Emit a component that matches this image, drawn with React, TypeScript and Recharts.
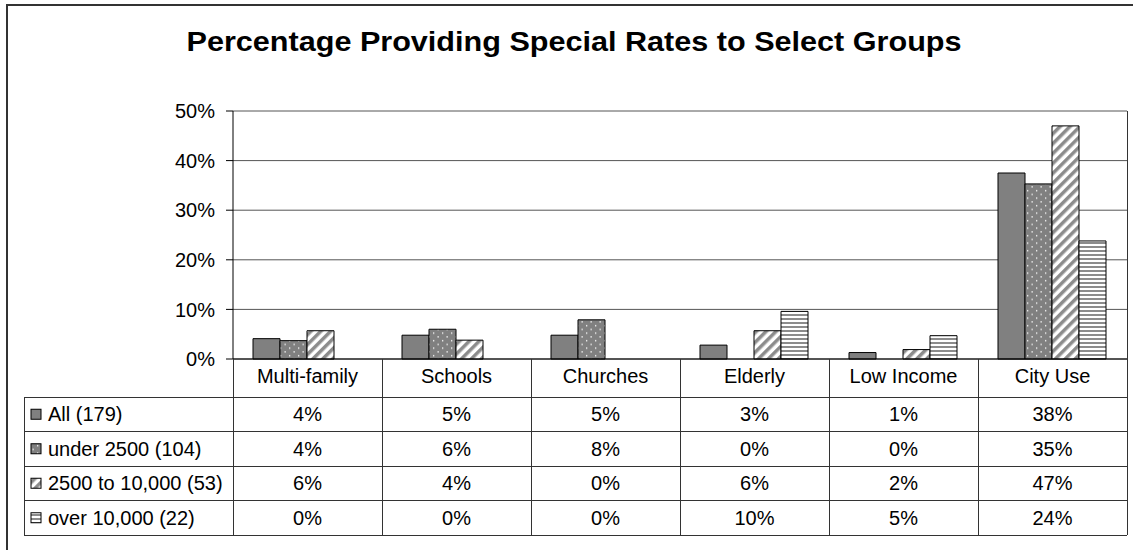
import { Bar, BarChart, CartesianGrid, XAxis, YAxis } from "recharts";

const categories = ["Multi-family", "Schools", "Churches", "Elderly", "Low Income", "City Use"];
const seriesNames = ["All (179)", "under 2500 (104)", "2500 to 10,000 (53)", "over 10,000 (22)"];

// bar heights (percent)
const allTowns = [4.1, 4.8, 4.8, 2.8, 1.3, 37.5];
const under2500 = [3.7, 6.0, 7.9, 0, 0, 35.3];
const from2500to10000 = [5.7, 3.8, 0, 5.7, 1.9, 47.0];
const over10000 = [0, 0, 0, 9.6, 4.7, 23.8];

// rounded values printed in the data table
const allLabels = ["4%", "5%", "5%", "3%", "1%", "38%"];
const under2500Labels = ["4%", "6%", "8%", "0%", "0%", "35%"];
const midLabels = ["6%", "4%", "0%", "6%", "2%", "47%"];
const overLabels = ["0%", "0%", "0%", "10%", "5%", "24%"];

const yTicks = [0, 10, 20, 30, 40, 50];

const rows = categories.map((name, i) => ({
  name,
  all: allTowns[i],
  under: under2500[i],
  mid: from2500to10000[i],
  over: over10000[i],
}));

const tableLabels = [allLabels, under2500Labels, midLabels, overLabels];
const fills = ["#808080", "url(#pDots)", "url(#pDiag)", "url(#pHoriz)"];
const keys = ["all", "under", "mid", "over"];

const FONT = "Arial, 'Liberation Sans', sans-serif";
const FS = 20;
const W = 1125;
const H = 542;
const margin = { top: 103, right: 6, bottom: 161, left: 165 };
const Y_W = 60;
const X_H = 30;
const PLOT_L = margin.left + Y_W;
const PLOT_R = W - margin.right;
const PLOT_T = margin.top;
const PLOT_B = H - margin.bottom - X_H;
const TABLE_L = 16;
const HEADER_B = 389;
const ROW_H = 34.5;
const TABLE_B = HEADER_B + ROW_H * 4;

function Patterns() {
  return (
    <svg width={0} height={0} style={{ position: "absolute" }}>
      <defs>
        <pattern id="pDots" width="9" height="7.5" patternUnits="userSpaceOnUse">
          <rect width="9" height="7.5" fill="#808080" />
          <rect x="2" y="2" width="1.3" height="1.3" fill="#fff" />
          <rect x="6.5" y="5.75" width="1.3" height="1.3" fill="#fff" />
        </pattern>
        <pattern id="pDiag" width="7" height="7" patternUnits="userSpaceOnUse" patternTransform="rotate(45)">
          <rect width="7" height="7" fill="#fff" />
          <rect width="3.5" height="7" fill="#8c8c8c" />
        </pattern>
        <pattern id="pHoriz" width="4" height="4" patternUnits="userSpaceOnUse">
          <rect width="4" height="4" fill="#fff" />
          <rect y="2" width="4" height="2" fill="#8c8c8c" />
        </pattern>
      </defs>
    </svg>
  );
}

function TableOverlay() {
  const colW = (PLOT_R - PLOT_L) / categories.length;
  const line = "#333";
  const base = 0.36 * FS;
  return (
    <svg
      width={W}
      height={H}
      style={{ position: "absolute", left: 0, top: 0, pointerEvents: "none" }}
      fontFamily={FONT}
    >
      <text
        x={566}
        y={43}
        textAnchor="middle"
        fontSize={27}
        fontWeight="bold"
        textLength={775}
        lengthAdjust="spacingAndGlyphs"
      >
        Percentage Providing Special Rates to Select Groups
      </text>
      <g shapeRendering="crispEdges" stroke={line} strokeWidth={1}>
        <line x1={PLOT_R} y1={PLOT_T} x2={PLOT_R} y2={TABLE_B} />
        <line x1={PLOT_L} y1={PLOT_B} x2={PLOT_L} y2={TABLE_B} />
        <line x1={TABLE_L} y1={HEADER_B} x2={TABLE_L} y2={TABLE_B} />
        {categories.slice(1).map((_, i) => (
          <line key={i} x1={PLOT_L + colW * (i + 1)} y1={PLOT_B} x2={PLOT_L + colW * (i + 1)} y2={TABLE_B} />
        ))}
        {[0, 1, 2, 3, 4].map((r) => (
          <line key={r} x1={TABLE_L} y1={HEADER_B + ROW_H * r} x2={PLOT_R} y2={HEADER_B + ROW_H * r} />
        ))}
      </g>
      {seriesNames.map((s, r) => {
        const mid = HEADER_B + ROW_H * r + ROW_H / 2;
        return (
          <g key={s}>
            <rect x={23} y={mid - 5} width={10} height={10} fill={fills[r]} stroke="#000" strokeWidth={1} />
            <text x={40} y={mid + base} fontSize={FS} fill="#000">
              {s}
            </text>
            {tableLabels[r].map((t, c) => (
              <text key={c} x={PLOT_L + colW * (c + 0.5)} y={mid + base} fontSize={FS} textAnchor="middle" fill="#000">
                {t}
              </text>
            ))}
          </g>
        );
      })}
    </svg>
  );
}

export default function App() {
  return (
    <div style={{ position: "fixed", left: 0, top: 0, width: 1133, height: 550, overflow: "hidden", background: "#fff" }}>
      <Patterns />
      <div
        style={{
          position: "absolute",
          left: 6,
          top: 4,
          width: 1127,
          height: 560,
          borderTop: "2px solid #333",
          borderLeft: "2px solid #333",
        }}
      />
      <div style={{ position: "absolute", left: 8, top: 8, width: W, height: H }}>
        <BarChart
          width={W}
          height={H}
          data={rows}
          margin={margin}
          barCategoryGap={20}
          barGap={0}
          style={{ fontFamily: FONT }}
        >
          <CartesianGrid vertical={false} stroke="#555" />
          <XAxis
            dataKey="name"
            height={X_H}
            tickLine={false}
            tickSize={6}
            tickMargin={4}
            axisLine={{ stroke: "#000" }}
            tick={{ fill: "#000", fontSize: FS }}
            interval={0}
          />
          <YAxis
            width={Y_W}
            domain={[0, 50]}
            ticks={yTicks}
            tickFormatter={(v: number) => `${v}%`}
            tickSize={7}
            tickMargin={11}
            axisLine={{ stroke: "#000" }}
            tickLine={{ stroke: "#000" }}
            tick={{ fill: "#000", fontSize: FS }}
          />
          {keys.map((k, i) => (
            <Bar key={k} dataKey={k} name={seriesNames[i]} fill={fills[i]} stroke="#000" strokeWidth={1} isAnimationActive={false} />
          ))}
        </BarChart>
        <TableOverlay />
      </div>
    </div>
  );
}
